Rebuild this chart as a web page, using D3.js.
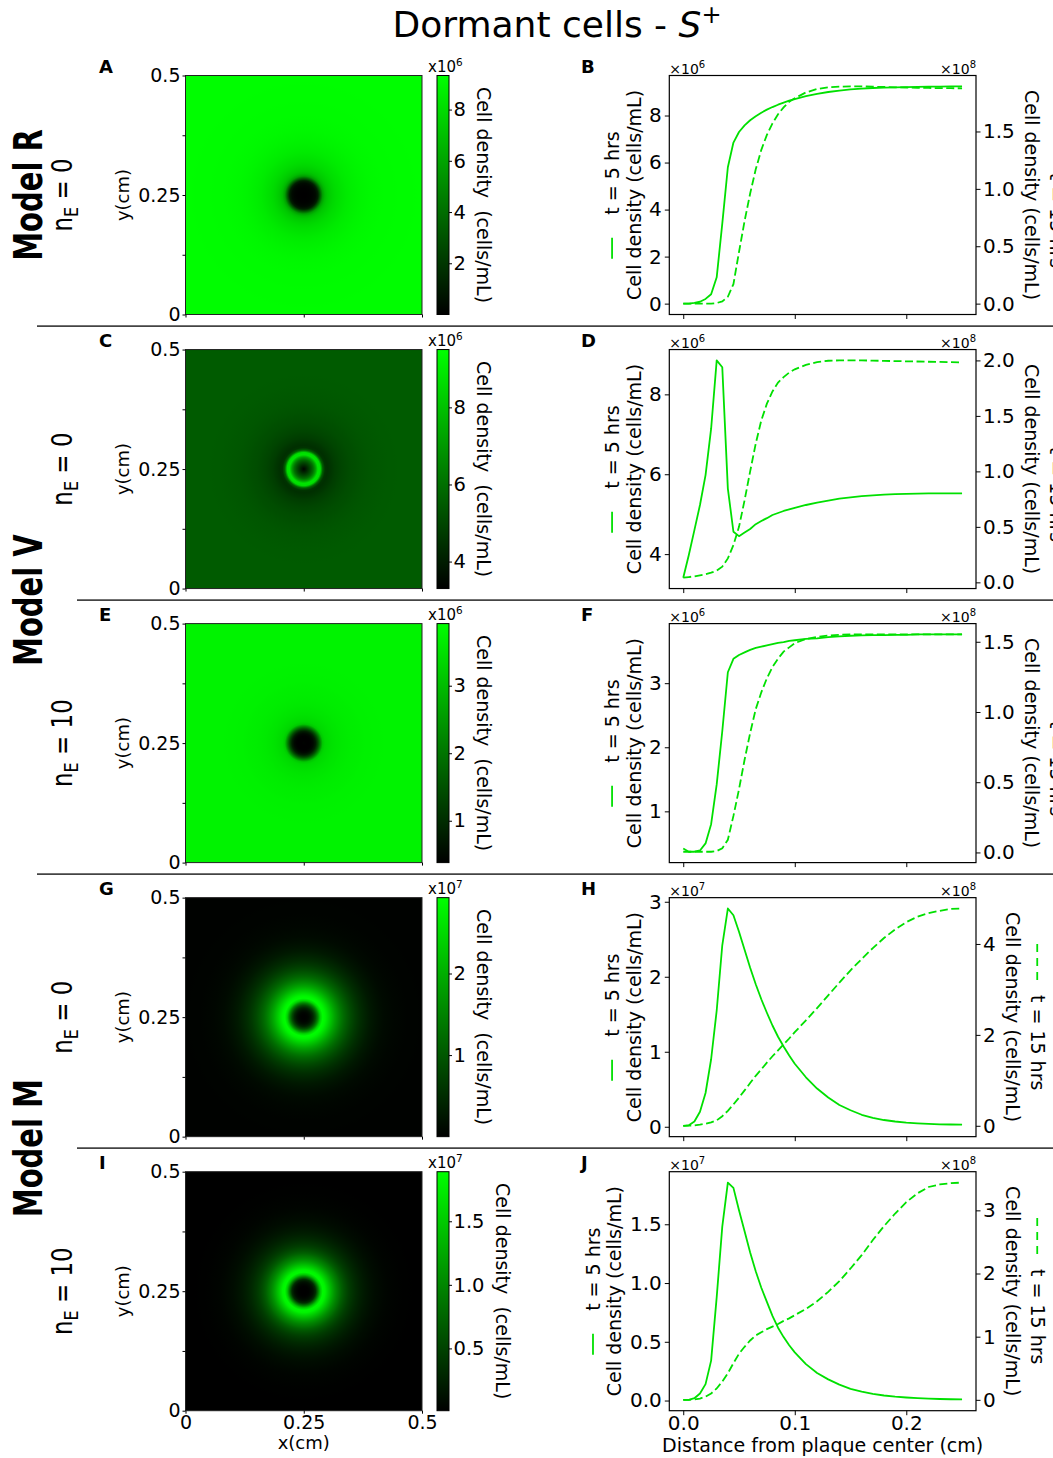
<!DOCTYPE html>
<html>
<head>
<meta charset="utf-8">
<title>Dormant cells - S+</title>
<script src="https://cdn.jsdelivr.net/npm/d3@7"></script>
<style>
  html, body { margin: 0; padding: 0; background: #fff; }
  svg { display: block; }
  text { font-family: "DejaVu Sans", sans-serif; fill: #000; }
</style>
</head>
<body>
<svg id="figure" width="1053" height="1458"></svg>
<script>
// Radial distance from the plaque center (cm), shared by every profile
const distance = [0, 0.005, 0.01, 0.015, 0.02, 0.025, 0.03, 0.035, 0.04, 0.045,
  0.05, 0.055, 0.06, 0.065, 0.07, 0.075, 0.08, 0.085, 0.09, 0.095, 0.1,
  0.11, 0.12, 0.13, 0.14, 0.15, 0.16, 0.17, 0.18, 0.19, 0.2, 0.21, 0.22, 0.23, 0.24, 0.25];

// Model R, nE = 0 : t = 5 hrs (x10^6) and t = 15 hrs (x10^8)
const profile5hR = [0, 0, 0.03, 0.08, 0.2, 0.4, 1.12, 3.4, 5.8, 6.85,
  7.3, 7.58, 7.8, 7.97, 8.12, 8.25, 8.36, 8.46, 8.55, 8.63, 8.7,
  8.82, 8.92, 9.0, 9.06, 9.11, 9.14, 9.17, 9.19, 9.2, 9.21, 9.22, 9.23, 9.23, 9.24, 9.24];
const profile15hR = [0, 0, 0, 0, 0, 0, 0.005, 0.02, 0.06, 0.17,
  0.45, 0.72, 0.96, 1.17, 1.34, 1.47, 1.57, 1.65, 1.71, 1.76, 1.79,
  1.84, 1.87, 1.885, 1.89, 1.893, 1.893, 1.89, 1.888, 1.885, 1.883, 1.88, 1.879, 1.878, 1.877, 1.876];

// Model V, nE = 0 : t = 5 hrs (x10^6) and t = 15 hrs (x10^8)
const profile5hV0 = [3.41, 3.98, 4.6, 5.23, 5.98, 7.14, 8.85, 8.68, 5.64, 4.56,
  4.45, 4.54, 4.63, 4.75, 4.83, 4.9, 4.98, 5.03, 5.08, 5.12, 5.16,
  5.23, 5.29, 5.34, 5.39, 5.42, 5.45, 5.47, 5.49, 5.5, 5.51, 5.515, 5.52, 5.52, 5.52, 5.52];
const profile15hV0 = [0.042, 0.048, 0.054, 0.063, 0.072, 0.087, 0.105, 0.141, 0.216, 0.336,
  0.5, 0.74, 1.0, 1.25, 1.46, 1.61, 1.72, 1.8, 1.85, 1.89, 1.92,
  1.96, 1.985, 1.997, 2.0, 2.0, 2.0, 1.998, 1.996, 1.994, 1.992, 1.99, 1.988, 1.986, 1.984, 1.982];

// Model V, nE = 10 : t = 5 hrs (x10^6) and t = 15 hrs (x10^8)
const profile5hV10 = [0.42, 0.37, 0.37, 0.39, 0.5, 0.8, 1.42, 2.25, 3.17, 3.38,
  3.44, 3.48, 3.52, 3.55, 3.57, 3.59, 3.61, 3.63, 3.64, 3.66, 3.67,
  3.69, 3.7, 3.72, 3.73, 3.74, 3.745, 3.75, 3.75, 3.755, 3.755, 3.76, 3.76, 3.76, 3.76, 3.76];
const profile15hV10 = [0.005, 0.005, 0.005, 0.005, 0.005, 0.005, 0.01, 0.03, 0.09, 0.26,
  0.45, 0.66, 0.85, 1.02, 1.14, 1.24, 1.32, 1.38, 1.43, 1.46, 1.49,
  1.52, 1.535, 1.545, 1.55, 1.552, 1.552, 1.552, 1.552, 1.552, 1.552, 1.552, 1.552, 1.552, 1.552, 1.552];

// Model M, nE = 0 : t = 5 hrs (x10^7) and t = 15 hrs (x10^8)
const profile5hM0 = [0.013, 0.02, 0.07, 0.2, 0.45, 0.9, 1.55, 2.42, 2.91, 2.82,
  2.6, 2.36, 2.12, 1.9, 1.7, 1.52, 1.35, 1.2, 1.07, 0.95, 0.84,
  0.66, 0.51, 0.39, 0.29, 0.22, 0.16, 0.12, 0.09, 0.07, 0.055, 0.045, 0.038, 0.033, 0.03, 0.028];
const profile15hM0 = [0, 0.003, 0.01, 0.025, 0.045, 0.075, 0.12, 0.21, 0.33, 0.47,
  0.62, 0.78, 0.94, 1.1, 1.24, 1.39, 1.53, 1.66, 1.79, 1.92, 2.06,
  2.32, 2.59, 2.87, 3.15, 3.42, 3.67, 3.91, 4.13, 4.32, 4.48, 4.6, 4.68, 4.73, 4.77, 4.78];

// Model M, nE = 10 : t = 5 hrs (x10^7) and t = 15 hrs (x10^8)
const profile5hM10 = [0.006, 0.006, 0.02, 0.06, 0.14, 0.34, 0.88, 1.48, 1.855, 1.81,
  1.62, 1.44, 1.26, 1.1, 0.96, 0.84, 0.72, 0.62, 0.54, 0.47, 0.41,
  0.31, 0.235, 0.18, 0.135, 0.1, 0.075, 0.057, 0.043, 0.033, 0.026, 0.02, 0.016, 0.013, 0.011, 0.01];
const profile15hM10 = [0, 0, 0.005, 0.02, 0.05, 0.1, 0.18, 0.29, 0.42, 0.58,
  0.73, 0.84, 0.94, 1.02, 1.07, 1.12, 1.16, 1.2, 1.25, 1.29, 1.34,
  1.44, 1.56, 1.71, 1.88, 2.08, 2.29, 2.53, 2.75, 2.95, 3.13, 3.27, 3.37, 3.41, 3.43, 3.44];

// Tick labels
const mapTickLabels = ["0", "0.25", "0.5"];
const distanceTickLabels = ["0.0", "0.1", "0.2"];
const leftTickLabels = [["0", "2", "4", "6", "8"], ["4", "6", "8"], ["1", "2", "3"], ["0", "1", "2", "3"], ["0.0", "0.5", "1.0", "1.5"]];
const rightTickLabels = [["0.0", "0.5", "1.0", "1.5"], ["0.0", "0.5", "1.0", "1.5", "2.0"], ["0.0", "0.5", "1.0", "1.5"], ["0", "2", "4"], ["0", "1", "2", "3"]];
const leftExponents = ["6", "6", "6", "7", "7"];
const rightExponent = "8";

// Colour bars of the density maps
const colorbarRanges = [[0, 9.33], [3.3, 9.5], [0.38, 3.92], [0, 2.93], [0.01, 1.89]];
const colorbarTickLabels = [["2", "4", "6", "8"], ["4", "6", "8"], ["1", "2", "3"], ["1", "2"], ["0.5", "1.0", "1.5"]];
const colorbarExponents = ["6", "6", "6", "7", "7"];

// Row annotations
const panelLetters = [["A", "B"], ["C", "D"], ["E", "F"], ["G", "H"], ["I", "J"]];
const nELabels = ["0", "0", "10", "0", "10"];
const modelNames = ["Model R", "Model V", "Model M"];

const rows = [
  { early: profile5hR, late: profile15hR },
  { early: profile5hV0, late: profile15hV0 },
  { early: profile5hV10, late: profile15hV10 },
  { early: profile5hM0, late: profile15hM0 },
  { early: profile5hM10, late: profile15hM10 }
];

// ---------- layout ----------
const svg = d3.select("#figure");
const defs = svg.append("defs");
const lineGreen = "#00e000";
const rowTop = i => 75.5 + i * 274.05;
const plotH = 239;
const mapX0 = 185.5, mapX1 = 422;
const barX0 = 437, barW = 12;
const profX0 = 669.3, profX1 = 976;
const lastRow = rows.length - 1;
const separatorY = i => rowTop(i + 1) - 23.5;

function padded(vals) {
  const [a, b] = d3.extent(vals);
  const m = (b - a) * 0.05;
  return [a - m, b + m];
}

function styleAxis(g, size) {
  g.attr("font-family", null).attr("font-size", null);
  g.select(".domain").remove();
  g.selectAll(".tick line").attr("stroke", "#000").attr("stroke-width", 1);
  g.selectAll(".tick text").attr("fill", "#000").style("font-size", size + "px");
}

// ---------- title ----------
const title = svg.append("text")
  .attr("x", 557).attr("y", 37)
  .attr("text-anchor", "middle")
  .style("font-size", "36px");
title.append("tspan").text("Dormant cells - ");
title.append("tspan").style("font-style", "italic").text("S");
title.append("tspan").attr("dy", -14).style("font-size", "24px").text("+");

// ---------- separators between rows ----------
const separatorStart = [37, 77, 37, 77];
separatorStart.forEach((x0, i) => {
  const y = separatorY(i);
  svg.append("line")
    .attr("x1", x0).attr("x2", 1053).attr("y1", y).attr("y2", y)
    .attr("stroke", "#444").attr("stroke-width", 1.8);
});

// ---------- model labels ----------
const modelCenters = [rowTop(0) + plotH / 2, separatorY(1), separatorY(3)];
modelNames.forEach((name, k) => {
  svg.append("text")
    .attr("transform", `translate(42,${modelCenters[k]}) rotate(-90) scale(1,1.32)`)
    .attr("text-anchor", "middle")
    .style("font-size", "29px").style("font-weight", "bold")
    .text(name);
});

rows.forEach((row, i) => {
  const top = rowTop(i), bottom = top + plotH, cy = top + plotH / 2;

  // nE label
  const ne = svg.append("text")
    .attr("transform", `translate(72,${cy}) rotate(-90) scale(1,1.25)`)
    .attr("text-anchor", "middle")
    .style("font-size", "23px");
  ne.append("tspan").text("n");
  ne.append("tspan").attr("dy", 5).style("font-size", "16px").text("E");
  ne.append("tspan").attr("dy", -5).text(" = " + nELabels[i]);

  // panel letters
  svg.append("text").attr("x", 99).attr("y", top - 2.5)
    .style("font-size", "18px").style("font-weight", "bold").text(panelLetters[i][0]);
  svg.append("text").attr("x", 581).attr("y", top - 2.5)
    .style("font-size", "18px").style("font-weight", "bold").text(panelLetters[i][1]);

  // ---------- density map ----------
  const mx = d3.scaleLinear().domain([0, 0.5]).range([mapX0, mapX1]);
  const my = d3.scaleLinear().domain([0, 0.5]).range([bottom, top]);
  const color = d3.scaleLinear().domain(colorbarRanges[i]).range(["#000000", "#00ff00"]).clamp(true);

  // radially symmetric field built from the t = 5 hrs profile around the plaque center
  const grad = defs.append("radialGradient")
    .attr("id", "map" + i)
    .attr("gradientUnits", "userSpaceOnUse")
    .attr("cx", mx(0.25)).attr("cy", my(0.25))
    .attr("r", mx(0.5) - mx(0.25));
  grad.selectAll("stop")
    .data(distance.map((d, k) => ({ d, v: row.early[k] })))
    .join("stop")
    .attr("offset", p => p.d / 0.25)
    .attr("stop-color", p => color(p.v));

  svg.append("rect")
    .attr("x", mapX0).attr("y", top)
    .attr("width", mapX1 - mapX0).attr("height", plotH)
    .attr("fill", `url(#map${i})`)
    .attr("stroke", "#222").attr("stroke-width", 1);

  const mapTicks = mapTickLabels.map(Number);
  const minorTicks = d3.pairs(mapTicks).map(([a, b]) => (a + b) / 2);
  const yAx = svg.append("g").attr("transform", `translate(${mapX0},0)`)
    .call(d3.axisLeft(my).tickValues(mapTicks).tickFormat((d, k) => mapTickLabels[k]).tickSize(3).tickPadding(2));
  styleAxis(yAx, 19);
  const yMinor = svg.append("g").attr("transform", `translate(${mapX0},0)`)
    .call(d3.axisLeft(my).tickValues(minorTicks).tickFormat("").tickSize(3));
  styleAxis(yMinor, 19);
  const xAx = svg.append("g").attr("transform", `translate(0,${bottom})`)
    .call(d3.axisBottom(mx).tickValues(mapTicks)
      .tickFormat((d, k) => i === lastRow ? mapTickLabels[k] : "").tickSize(3).tickPadding(2));
  styleAxis(xAx, 19);

  svg.append("text")
    .attr("transform", `translate(129,${cy}) rotate(-90)`)
    .attr("text-anchor", "middle").style("font-size", "18px").text("y(cm)");
  if (i === lastRow) {
    svg.append("text").attr("x", (mapX0 + mapX1) / 2).attr("y", 1449)
      .attr("text-anchor", "middle").style("font-size", "18px").text("x(cm)");
  }

  // colour bar
  const cb = d3.scaleLinear().domain(colorbarRanges[i]).range([bottom, top]);
  const cbGrad = defs.append("linearGradient").attr("id", "bar" + i)
    .attr("x1", 0).attr("y1", 1).attr("x2", 0).attr("y2", 0);
  cbGrad.selectAll("stop").data(colorbarRanges[i]).join("stop")
    .attr("offset", (d, k) => k)
    .attr("stop-color", d => color(d));
  svg.append("rect")
    .attr("x", barX0).attr("y", top).attr("width", barW).attr("height", plotH)
    .attr("fill", `url(#bar${i})`).attr("stroke", "#000").attr("stroke-width", 1);
  const cbTicks = colorbarTickLabels[i];
  const cbAx = svg.append("g").attr("transform", `translate(${barX0 + barW},0)`)
    .call(d3.axisRight(cb).tickValues(cbTicks.map(Number)).tickFormat((d, k) => cbTicks[k]).tickSize(3).tickPadding(1.5));
  styleAxis(cbAx, 19.5);
  const cbBox = cbAx.node().getBBox();
  const cbLabelX = barX0 + barW + cbBox.x + cbBox.width + 11;
  svg.append("text")
    .attr("transform", `translate(${cbLabelX},${cy}) rotate(90)`)
    .attr("text-anchor", "middle").style("font-size", "19px")
    .style("white-space", "pre")
    .text("Cell density  (cells/mL)");
  const cbExp = svg.append("text").attr("x", 428).attr("y", top - 3.5).style("font-size", "15px");
  cbExp.append("tspan").text("x10");
  cbExp.append("tspan").attr("dy", -6).style("font-size", "10.5px").text(colorbarExponents[i]);

  // ---------- radial profiles ----------
  const x = d3.scaleLinear().domain(padded(distance)).range([profX0, profX1]);
  const yL = d3.scaleLinear().domain(padded(row.early)).range([bottom, top]);
  const yR = d3.scaleLinear().domain(padded(row.late)).range([bottom, top]);

  svg.append("path").datum(row.early)
    .attr("d", d3.line().x((d, k) => x(distance[k])).y(d => yL(d)))
    .attr("fill", "none").attr("stroke", lineGreen).attr("stroke-width", 1.8)
    .attr("stroke-linejoin", "round");
  svg.append("path").datum(row.late)
    .attr("d", d3.line().x((d, k) => x(distance[k])).y(d => yR(d)))
    .attr("fill", "none").attr("stroke", lineGreen).attr("stroke-width", 1.8)
    .attr("stroke-dasharray", "8,3.5");

  svg.append("rect")
    .attr("x", profX0).attr("y", top).attr("width", profX1 - profX0).attr("height", plotH)
    .attr("fill", "none").attr("stroke", "#000").attr("stroke-width", 1.2);

  const lt = leftTickLabels[i];
  const axL = svg.append("g").attr("transform", `translate(${profX0},0)`)
    .call(d3.axisLeft(yL).tickValues(lt.map(Number)).tickFormat((d, k) => lt[k]).tickSize(4.5).tickPadding(3));
  styleAxis(axL, 20);
  const rt = rightTickLabels[i];
  const axR = svg.append("g").attr("transform", `translate(${profX1},0)`)
    .call(d3.axisRight(yR).tickValues(rt.map(Number)).tickFormat((d, k) => rt[k]).tickSize(4.5).tickPadding(2.5));
  styleAxis(axR, 20);
  const axB = svg.append("g").attr("transform", `translate(0,${bottom})`)
    .call(d3.axisBottom(x).tickValues(distanceTickLabels.map(Number))
      .tickFormat((d, k) => i === lastRow ? distanceTickLabels[k] : "").tickSize(4.5).tickPadding(1));
  styleAxis(axB, 20);

  // scale factors
  const expL = svg.append("text").attr("x", profX0).attr("y", top - 2).style("font-size", "14px");
  expL.append("tspan").text("\u00d710");
  expL.append("tspan").attr("dy", -6).style("font-size", "10px").text(leftExponents[i]);
  const expR = svg.append("text").attr("x", profX1).attr("y", top - 2)
    .attr("text-anchor", "end").style("font-size", "14px");
  expR.append("tspan").text("\u00d710");
  expR.append("tspan").attr("dy", -6).style("font-size", "10px").text(rightExponent);

  // left axis title with the t = 5 hrs key
  const lBox = axL.node().getBBox();
  const lLabelX = profX0 + lBox.x - 8.5;
  svg.append("text")
    .attr("transform", `translate(${lLabelX},${cy}) rotate(-90)`)
    .attr("text-anchor", "middle").style("font-size", "19px")
    .text("Cell density (cells/mL)");
  const keyL = svg.append("g").attr("transform", `translate(${lLabelX - 21.5},${cy}) rotate(-90)`);
  const keyLText = keyL.append("text").style("font-size", "19px").text("t = 5 hrs");
  const lenL = keyLText.node().getComputedTextLength();
  const totalL = 44 + lenL;
  keyL.append("line").attr("x1", -totalL / 2).attr("x2", -totalL / 2 + 21)
    .attr("y1", -7).attr("y2", -7).attr("stroke", lineGreen).attr("stroke-width", 1.8);
  keyLText.attr("x", -totalL / 2 + 44);

  // right axis title with the t = 15 hrs key
  const rBox = axR.node().getBBox();
  const rLabelX = profX1 + rBox.x + rBox.width + 10;
  svg.append("text")
    .attr("transform", `translate(${rLabelX},${cy}) rotate(90)`)
    .attr("text-anchor", "middle").style("font-size", "19px")
    .text("Cell density (cells/mL)");
  const keyR = svg.append("g").attr("transform", `translate(${rLabelX + 25},${cy}) rotate(90)`);
  const keyRText = keyR.append("text").style("font-size", "19px").text("t = 15 hrs");
  const lenR = keyRText.node().getComputedTextLength();
  const totalR = 51 + lenR;
  keyR.append("line").attr("x1", -totalR / 2).attr("x2", -totalR / 2 + 38)
    .attr("y1", -6.5).attr("y2", -6.5).attr("stroke", lineGreen).attr("stroke-width", 1.8)
    .attr("stroke-dasharray", "8,6");
  keyRText.attr("x", -totalR / 2 + 51);
});

svg.append("text")
  .attr("x", (profX0 + profX1) / 2).attr("y", 1452)
  .attr("text-anchor", "middle").style("font-size", "19px")
  .text("Distance from plaque center (cm)");
</script>
</body>
</html>
